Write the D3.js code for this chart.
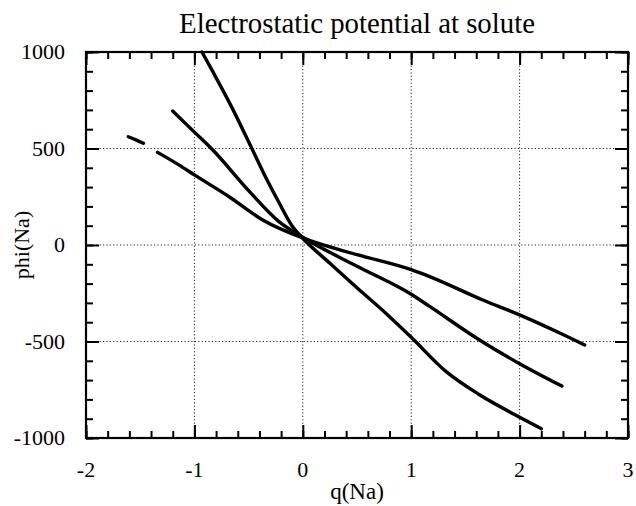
<!DOCTYPE html>
<html>
<head>
<meta charset="utf-8">
<script src="https://cdn.jsdelivr.net/npm/d3@7"></script>
<style>
  html, body { margin: 0; padding: 0; background: #fff; }
  svg { display: block; }
  text { font-family: "Liberation Serif", "Times New Roman", serif; fill: #000; }
</style>
</head>
<body>
<svg id="chart" width="636" height="506"></svg>
<script>
// Potential phi(Na) versus solute charge q(Na), four traces
const curveAq   = [-0.93, -0.83, -0.65, -0.47, -0.34, -0.22, -0.10, 0.00, 0.25, 0.52, 0.71, 1.00, 1.32, 1.63, 2.00, 2.20];
const curveAphi = [1000, 898, 708, 500, 348, 220, 100, 35, -95, -232, -325, -478, -655, -776, -892, -952];

const curveBq   = [-1.20, -1.00, -0.83, -0.50, -0.22, 0.03, 0.50, 1.00, 1.17, 1.63, 2.00, 2.39];
const curveBphi = [694, 585, 492, 282, 121, 30, -110, -255, -318, -492, -615, -731];

const curveCq   = [-1.34, -1.14, -1.00, -0.68, -0.37, 0.03, 0.50, 1.00, 1.17, 1.66, 2.00, 2.37, 2.60];
const curveCphi = [480, 414, 363, 250, 130, 30, -50, -128, -164, -285, -362, -456, -518];

const curveDq   = [-1.61, -1.54, -1.47];
const curveDphi = [561, 545, 527];

const xMajor = [-2, -1, 0, 1, 2, 3];
const yMajor = [-1000, -500, 0, 500, 1000];
const xGrid = [-1, 0, 1, 2];
const yGrid = [-500, 0, 500];

const titleText = "Electrostatic potential at solute";
const xLabel = "q(Na)";
const yLabel = "phi(Na)";

const svg = d3.select("#chart");
const plot = { left: 86, right: 628, top: 52, bottom: 438 };

const x = d3.scaleLinear().domain([-2, 3]).range([plot.left, plot.right]);
const y = d3.scaleLinear().domain([-1000, 1000]).range([plot.bottom, plot.top]);

const xMinor = d3.range(-2, 3.0001, 0.2).map(v => +v.toFixed(1));
const yMinor = d3.range(-1000, 1000.1, 100);

// dotted grid at interior major ticks
const grid = svg.append("g").attr("stroke", "#222").attr("stroke-width", 1).attr("stroke-dasharray", "1.2,2.2");
grid.selectAll(".gx").data(xGrid).join("line")
  .attr("x1", d => x(d)).attr("x2", d => x(d))
  .attr("y1", plot.top).attr("y2", plot.bottom);
grid.selectAll(".gy").data(yGrid).join("line")
  .attr("y1", d => y(d)).attr("y2", d => y(d))
  .attr("x1", plot.left).attr("x2", plot.right);

// inward ticks on all four sides
function tickAxis(axis, size, values, transform) {
  const g = svg.append("g").attr("transform", transform)
    .call(axis.tickValues(values).tickSize(size).tickFormat(""));
  g.select(".domain").remove();
  g.selectAll(".tick line").attr("stroke", "#000").attr("stroke-width", 2);
  return g;
}
tickAxis(d3.axisBottom(x), -7, xMinor, `translate(0,${plot.bottom})`);
tickAxis(d3.axisBottom(x), -13, xMajor, `translate(0,${plot.bottom})`);
tickAxis(d3.axisTop(x), -7, xMinor, `translate(0,${plot.top})`);
tickAxis(d3.axisTop(x), -13, xMajor, `translate(0,${plot.top})`);
tickAxis(d3.axisLeft(y), -7, yMinor, `translate(${plot.left},0)`);
tickAxis(d3.axisLeft(y), -13, yMajor, `translate(${plot.left},0)`);
tickAxis(d3.axisRight(y), -7, yMinor, `translate(${plot.right},0)`);
tickAxis(d3.axisRight(y), -13, yMajor, `translate(${plot.right},0)`);

// frame
svg.append("rect")
  .attr("x", plot.left).attr("y", plot.top)
  .attr("width", plot.right - plot.left).attr("height", plot.bottom - plot.top)
  .attr("fill", "none").attr("stroke", "#000").attr("stroke-width", 2.2);

// tick labels
const gxl = svg.append("g");
gxl.selectAll("text").data(xMajor).join("text")
  .attr("x", d => x(d)).attr("y", 477)
  .attr("text-anchor", "middle").attr("font-size", 22)
  .text(d => String(d));

const gyl = svg.append("g");
gyl.selectAll("text").data(yMajor).join("text")
  .attr("x", plot.left - 21).attr("y", d => y(d)).attr("dy", "0.34em")
  .attr("text-anchor", "end").attr("font-size", 22)
  .text(d => String(d));

// traces
const line = d3.line().x(d => x(d[0])).y(d => y(d[1])).curve(d3.curveMonotoneX);
const traces = [
  d3.zip(curveAq, curveAphi),
  d3.zip(curveBq, curveBphi),
  d3.zip(curveCq, curveCphi),
  d3.zip(curveDq, curveDphi)
];
svg.append("g").selectAll("path").data(traces).join("path")
  .attr("d", line)
  .attr("fill", "none").attr("stroke", "#000").attr("stroke-width", 3.4)
  .attr("stroke-linecap", "round").attr("stroke-linejoin", "round");

// titles
const title = svg.append("text").attr("x", (plot.left + plot.right) / 2).attr("y", 33)
  .attr("text-anchor", "middle").attr("font-size", 26).text(titleText);
// scale title so it spans the same width as the heading line above the frame
const tw = title.node().getComputedTextLength();
if (tw > 0) title.attr("font-size", 26 * 356 / tw);

svg.append("text").attr("x", (plot.left + plot.right) / 2).attr("y", 499)
  .attr("text-anchor", "middle").attr("font-size", 23).text(xLabel);
svg.append("text").attr("transform", `translate(29,${(plot.top + plot.bottom) / 2}) rotate(-90)`)
  .attr("text-anchor", "middle").attr("font-size", 22).text(yLabel);
</script>
</body>
</html>
